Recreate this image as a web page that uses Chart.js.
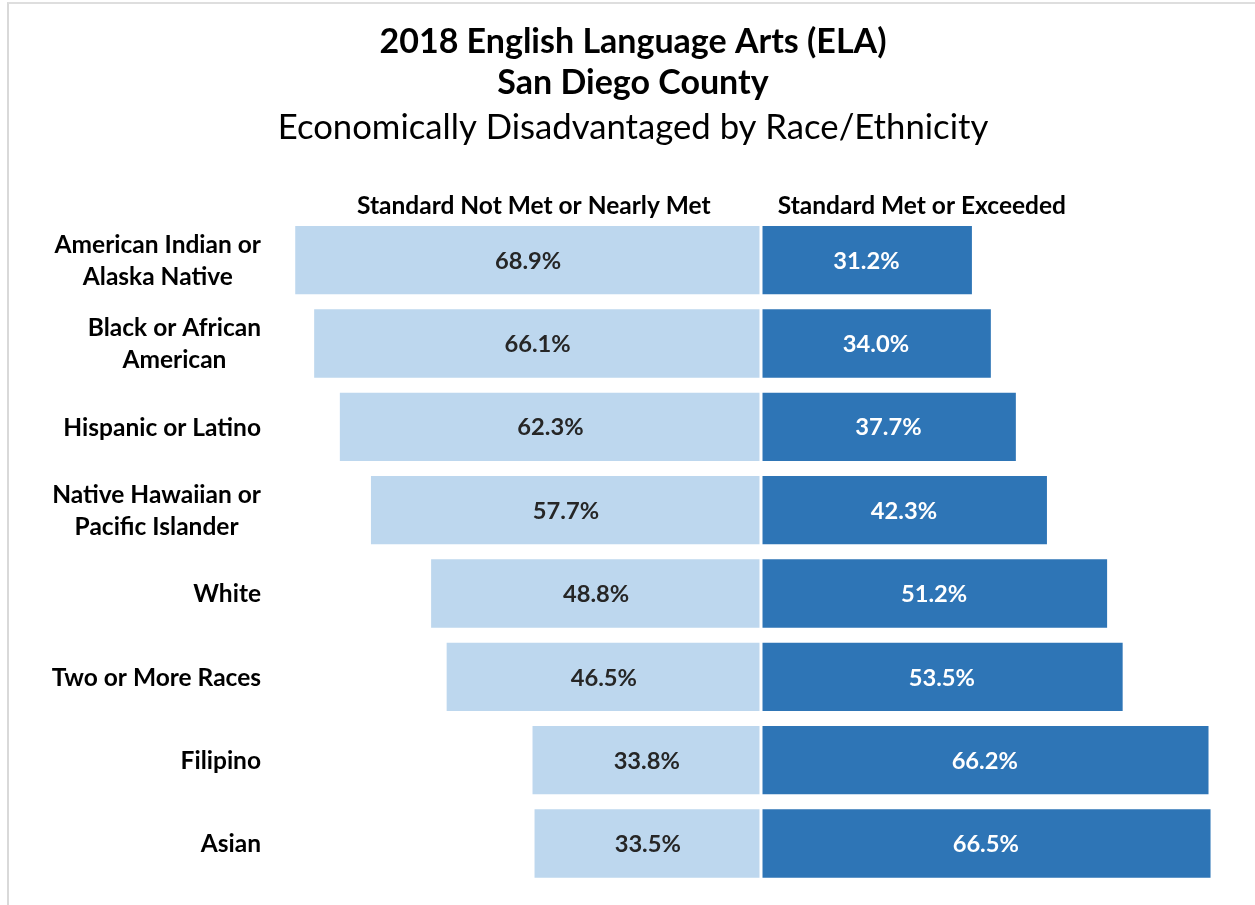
<!DOCTYPE html>
<html>
<head>
<meta charset="utf-8">
<script src="https://cdn.jsdelivr.net/npm/chart.js@4"></script>
<style>
  html, body { margin: 0; padding: 0; background: #ffffff; }
  #wrap { position: relative; width: 1255px; height: 905px; overflow: hidden; }
  #frame { position: absolute; left: 7px; top: 2px; width: 1400px; height: 1000px;
           border-left: 2px solid #d9d9d9; border-top: 2px solid #dedede; }
  #c { position: absolute; left: 0; top: 0; }
</style>
</head>
<body>
<div id="wrap">
  <div id="frame"></div>
  <canvas id="c" width="1255" height="905"></canvas>
</div>
<script>
const categories = [
  ["American Indian or", "Alaska Native"],
  ["Black or African", "American"],
  ["Hispanic or Latino"],
  ["Native Hawaiian or", "Pacific Islander"],
  ["White"],
  ["Two or More Races"],
  ["Filipino"],
  ["Asian"]
];
const notMet = [68.9, 66.1, 62.3, 57.7, 48.8, 46.5, 33.8, 33.5];
const metOrExceeded = [31.2, 34.0, 37.7, 42.3, 51.2, 53.5, 66.2, 66.5];
const seriesNames = ["Standard Not Met or Nearly Met", "Standard Met or Exceeded"];
const titleLines = ["2018 English Language Arts (ELA)", "San Diego County"];
const subtitleText = "Economically Disadvantaged by Race/Ethnicity";

const FONT = "Lato, 'Open Sans', sans-serif";
const LABEL_SIZE = 24.5;
const VALUE_SIZE = 23.7;

const overlay = {
  id: 'overlay',
  afterDatasetsDraw(chart) {
    const ctx = chart.ctx;
    const xs = chart.scales.x, ys = chart.scales.y, ca = chart.chartArea;
    // centre divider
    const x0 = xs.getPixelForValue(0);
    ctx.save();
    ctx.fillStyle = '#ffffff';
    ctx.fillRect(x0 - 1.5, ca.top, 3, ca.bottom - ca.top);
    // value labels
    ctx.font = 'bold ' + VALUE_SIZE + 'px ' + FONT;
    ctx.textAlign = 'center';
    ctx.textBaseline = 'middle';
    chart.data.datasets.forEach((ds, di) => {
      const meta = chart.getDatasetMeta(di);
      const vals = di === 0 ? notMet : metOrExceeded;
      meta.data.forEach((bar, i) => {
        const cx = (bar.x + bar.base) / 2;
        ctx.fillStyle = di === 0 ? '#262626' : '#ffffff';
        ctx.fillText(vals[i].toFixed(1) + '%', cx, bar.y + 1);
      });
    });
    ctx.restore();
  },
  afterDraw(chart) {
    const ctx = chart.ctx;
    const xs = chart.scales.x, ys = chart.scales.y;
    ctx.save();
    ctx.font = 'bold ' + LABEL_SIZE + 'px ' + FONT;
    ctx.fillStyle = '#000000';
    ctx.textBaseline = 'middle';
    ctx.textAlign = 'center';
    // column headers
    ctx.fillText(seriesNames[0], xs.getPixelForValue(-33.6), 206);
    ctx.fillText(seriesNames[1], xs.getPixelForValue(23.8), 206);
    // category labels: centred block, right edge at 261
    const lineH = 32;
    categories.forEach((lines, i) => {
      const cy = ys.getPixelForValue(i);
      let w = 0;
      lines.forEach(l => { w = Math.max(w, ctx.measureText(l).width); });
      const cx = 261 - w / 2;
      const y0 = cy - (lines.length - 1) * lineH / 2;
      lines.forEach((l, k) => ctx.fillText(l, cx, y0 + k * lineH + 1));
    });
    ctx.restore();
  }
};

new Chart(document.getElementById('c'), {
  type: 'bar',
  data: {
    labels: categories,
    datasets: [
      { label: seriesNames[0], data: notMet.map(v => -v), backgroundColor: '#BDD7EE',
        borderWidth: 0, barPercentage: 0.82, categoryPercentage: 1 },
      { label: seriesNames[1], data: metOrExceeded, backgroundColor: '#2E75B6',
        borderWidth: 0, barPercentage: 0.82, categoryPercentage: 1 }
    ]
  },
  options: {
    indexAxis: 'y',
    responsive: false,
    animation: false,
    events: [],
    layout: { padding: { left: 31.8, right: 20.8, top: 0, bottom: 19.8 } },
    scales: {
      x: { display: false, stacked: true, min: -70, max: 70 },
      y: { stacked: true, display: true, grid: { display: false }, border: { display: false },
           ticks: { display: false },
           afterFit: s => { s.width = 256; } }
    },
    plugins: {
      legend: { display: false },
      tooltip: { enabled: false },
      title: { display: true, text: titleLines, color: '#000000',
               font: { family: FONT, size: 34, weight: 'bold', lineHeight: 41 / 34 },
               padding: { top: 21.5, bottom: 0 } },
      subtitle: { display: true, text: subtitleText, color: '#000000',
               font: { family: FONT, size: 34.7, weight: 'normal', lineHeight: 36 / 34.7 },
               padding: { top: 6.5, bottom: 72.5 } }
    }
  },
  plugins: [overlay]
});
</script>
</body>
</html>
